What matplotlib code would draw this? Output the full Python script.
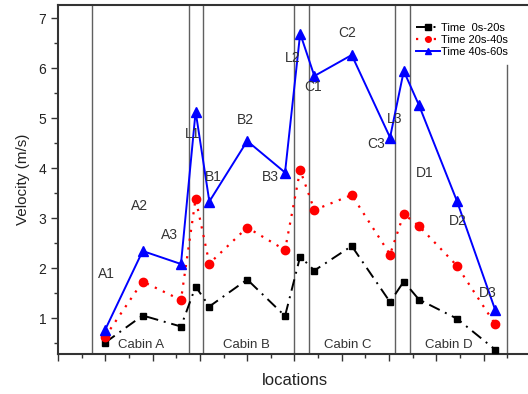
import matplotlib
matplotlib.use('Agg')
import matplotlib.pyplot as plt
import numpy as np
from matplotlib.ticker import MultipleLocator, NullFormatter

# polozenia punktow pomiarowych (os x bez opisow)
loc = [1.0, 1.79, 2.6, 2.91, 3.2, 4.0, 4.8, 5.12, 5.42, 6.21, 7.02, 7.31, 7.63, 8.43, 9.24]
names = ['A1', 'A2', 'A3', 'L1', 'B1', 'B2', 'B3', 'L2', 'C1', 'C2', 'C3', 'L3', 'D1', 'D2', 'D3']

v_0_20 = [0.51, 1.05, 0.83, 1.63, 1.23, 1.77, 1.04, 2.23, 1.95, 2.44, 1.32, 1.73, 1.37, 0.99, 0.37]
v_20_40 = [0.63, 1.73, 1.36, 3.39, 2.09, 2.81, 2.36, 3.96, 3.16, 3.46, 2.27, 3.08, 2.84, 2.05, 0.88]
v_40_60 = [0.77, 2.34, 2.08, 5.13, 3.33, 4.54, 3.91, 6.69, 5.84, 6.26, 4.61, 5.94, 5.26, 3.35, 1.17]

# granice kabin / lacznikow
walls = [0.725, 2.76, 3.06, 5.0, 5.31, 7.13, 7.44]
cabins = ['Cabin A', 'Cabin B', 'Cabin C', 'Cabin D']

plt.rcParams['font.family'] = ['Liberation Sans', 'DejaVu Sans']

fig = plt.figure(dpi=100, figsize=(5.28, 3.94))
ax = fig.add_axes([0.1098, 0.1015, 0.8959, 0.8858])

for w in walls:
    ax.axvline(w, color='#606060', linewidth=1, zorder=1)
ax.axvline(9.49, ymin=0, ymax=(6.06 - 0.28) / (7.26 - 0.28), color='#606060', linewidth=1, zorder=1)

ax.plot(loc, v_0_20, color='k', linestyle=(0, (6, 3, 1, 3)), linewidth=1.4, marker='s', markersize=5,
        label='Time  0s-20s', zorder=3)
ax.plot(loc, v_20_40, color='r', linestyle=(0, (1, 3)), linewidth=1.6, marker='o', markersize=6,
        label='Time 20s-40s', zorder=3)
ax.plot(loc, v_40_60, color='b', linestyle='-', linewidth=1.4, marker='^', markersize=6.5,
        label='Time 40s-60s', zorder=3)

# opisy punktow
txt_pos = [(1.03, 1.89), (1.73, 3.25), (2.35, 2.66), (2.85, 4.68), (3.28, 3.83),
           (3.97, 4.97), (4.48, 3.83), (4.97, 6.21), (5.40, 5.63), (6.12, 6.71),
           (6.72, 4.49), (7.11, 4.98), (7.76, 3.90), (8.46, 2.95), (9.08, 1.51)]
for n, (tx, ty) in zip(names, txt_pos):
    ax.text(tx, ty, n, fontsize=10, ha='center', va='center', color='#333333', zorder=4)

cab_x = [1.76, 3.99, 6.12, 8.27]
for c, cx in zip(cabins, cab_x):
    ax.text(cx, 0.46, c, fontsize=9.5, ha='center', va='center', color='#333333', zorder=4)

ax.set_xlim(0, 10)
ax.set_ylim(0.28, 7.26)
ax.xaxis.set_major_locator(MultipleLocator(1))
ax.xaxis.set_minor_locator(MultipleLocator(0.5))
ax.xaxis.set_major_formatter(NullFormatter())
ax.yaxis.set_major_locator(MultipleLocator(1))
ax.yaxis.set_minor_locator(MultipleLocator(0.5))
ax.tick_params(axis='both', which='major', direction='out', length=5, width=1, labelsize=10, colors='#333333')
ax.tick_params(axis='both', which='minor', direction='out', length=3, width=1, colors='#333333')
ax.tick_params(axis='y', labelcolor='#222222')
for s in ax.spines.values():
    s.set_linewidth(1.5)
    s.set_color('#333333')

ax.set_xlabel('locations', fontsize=12, labelpad=5, color='#222222')
ax.set_ylabel('Velocity (m/s)', fontsize=11, labelpad=6, color='#222222')

leg = ax.legend(loc='upper left', bbox_to_anchor=(0.74, 0.97), fontsize=8, frameon=False,
                handlelength=2.2, handletextpad=0.1, labelspacing=0.15, borderpad=0.2)
for h in leg.legend_handles:
    h.set_markersize(4)

plt.savefig('out.png', format='png', dpi=100)
